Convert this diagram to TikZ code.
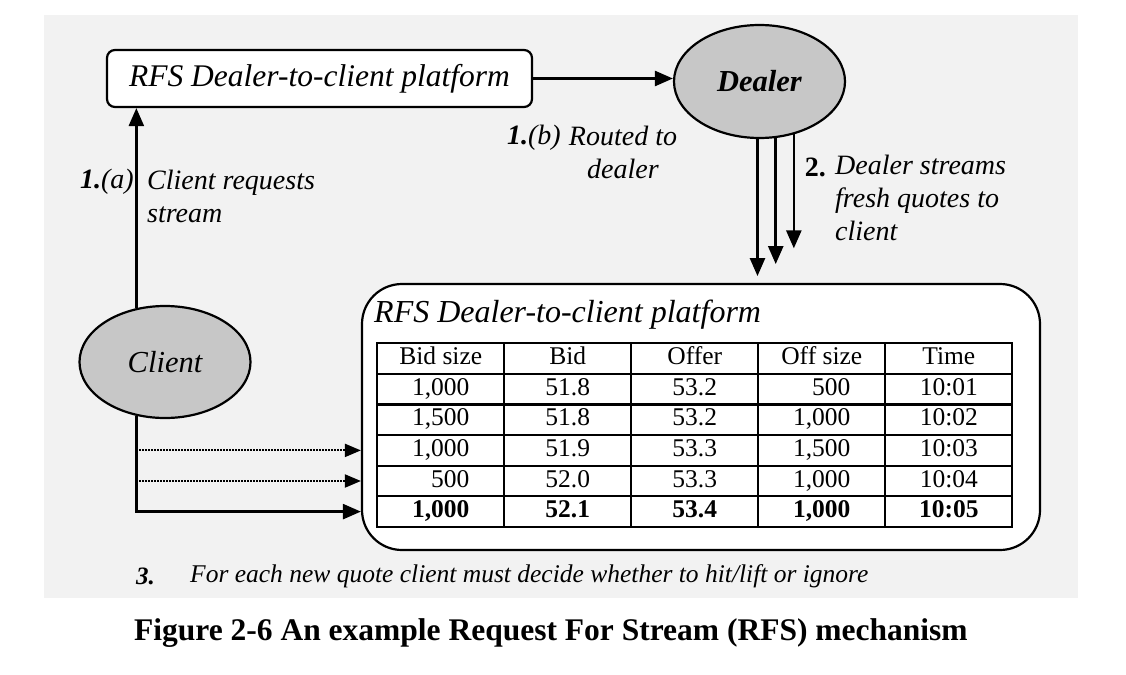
\documentclass[tikz,border=0pt]{standalone}
\usepackage{fontspec}
\setmainfont{Liberation Serif}
\usetikzlibrary{arrows.meta,shapes.geometric,matrix}
\begin{document}
\begin{tikzpicture}[x=1pt,y=-1pt,
  arr/.style={line width=2.5pt,-{Triangle[length=18pt,width=15pt]}},
  darr/.style={line width=2pt,black,dash pattern=on 2pt off 1pt,-{Triangle[length=16pt,width=13pt]}},
  oval/.style={ellipse,draw,line width=2.2pt,fill=black!22,inner sep=0pt},
  lbl/.style={font=\fontsize{28}{33}\selectfont\itshape,inner sep=0pt},
  cell/.style={draw,line width=2.2pt,minimum width=127pt,minimum height=30.6pt,inner sep=0pt,
    text height=17pt,text depth=5pt,font=\fontsize{25.5}{28}\selectfont}]
\useasboundingbox (0,0) rectangle (1126,674);
\fill[black!5] (44,15) rectangle (1078,598);

% top platform box
\node[draw,fill=white,line width=2.2pt,rounded corners=8pt,minimum width=425pt,minimum height=57pt,
  inner sep=0pt,font=\fontsize{31.5}{36}\selectfont\itshape] (top) at (319.5,78.5) {RFS Dealer-to-client platform};

% dealer
\node[oval,minimum width=171pt,minimum height=113pt,font=\fontsize{30.5}{34}\selectfont\bfseries\itshape]
  (dealer) at (759.5,81.5) {Dealer};

% client
\node[oval,minimum width=171pt,minimum height=112pt,font=\fontsize{30.5}{34}\selectfont\itshape]
  (client) at (165,362) {Client};

% big platform box
\node[draw,fill=white,line width=2.2pt,rounded corners=40pt,minimum width=678pt,minimum height=266pt] (plat) at (701,417) {};
\node[anchor=west,inner sep=0pt,font=\fontsize{32}{36}\selectfont\itshape] (ptitle) at (374,315) {RFS Dealer-to-client platform};

\matrix (tab) [matrix of nodes,anchor=north west,inner sep=0pt,nodes={cell},
  column sep=-2.2pt,row sep=-2.2pt,
  row 6/.style={nodes={font=\fontsize{25.5}{28}\selectfont\bfseries}}] at (376,342) {
  Bid size & Bid & Offer & Off size & Time \\
  1,000 & 51.8 & 53.2 & \phantom{1,}500 & 10:01 \\
  1,500 & 51.8 & 53.2 & 1,000 & 10:02 \\
  1,000 & 51.9 & 53.3 & 1,500 & 10:03 \\
  \phantom{1,}500 & 52.0 & 53.3 & 1,000 & 10:04 \\
  1,000 & 52.1 & 53.4 & 1,000 & 10:05 \\
};

% connectors
\draw[arr] (top.east) -- (top.east -| dealer.west);
\draw[arr] (client.118) -- (client.118 |- top.south);
\draw[arr] (dealer.268) -- ++(0,137);
\draw[arr] (dealer.286) -- ++(0,126);
\draw[arr] (dealer.303) -- ++(0,114);
\draw[darr] (client.242 |- tab-4-1) -- (plat.west |- tab-4-1);
\draw[darr] (client.242 |- tab-5-1) -- (plat.west |- tab-5-1);
\draw[arr] (client.242) |- (plat.west |- tab-6-1);

% labels
\node[lbl,anchor=east] (la) at (134,182) {\textbf{1.}(a)};
\node[lbl,anchor=north west,align=left] (lat) at (147,170) {Client requests\\stream};
\node[lbl,anchor=east] (lb) at (561,138) {\textbf{1.}(b)};
\node[lbl,anchor=north,align=center] (lbt) at (623,126) {Routed to\\dealer};
\node[lbl,anchor=east,font=\fontsize{28}{33}\selectfont\bfseries] (l2) at (826,167) {2.};
\node[lbl,anchor=north west,align=left] (l2t) at (835,155) {Dealer streams\\fresh quotes to\\client};

\node[lbl,anchor=west,font=\fontsize{25}{28}\selectfont\bfseries\itshape] (l3) at (136,576) {3.};
\node[lbl,anchor=west,font=\fontsize{25.5}{28}\selectfont\itshape] (l3t) at (190,576) {For each new quote client must decide whether to hit/lift or ignore};

\node[anchor=west,inner sep=0pt,font=\fontsize{31.5}{36}\selectfont\bfseries] (cap) at (134,633)
  {Figure 2-6 An example Request For Stream (RFS) mechanism};
\end{tikzpicture}
\end{document}
